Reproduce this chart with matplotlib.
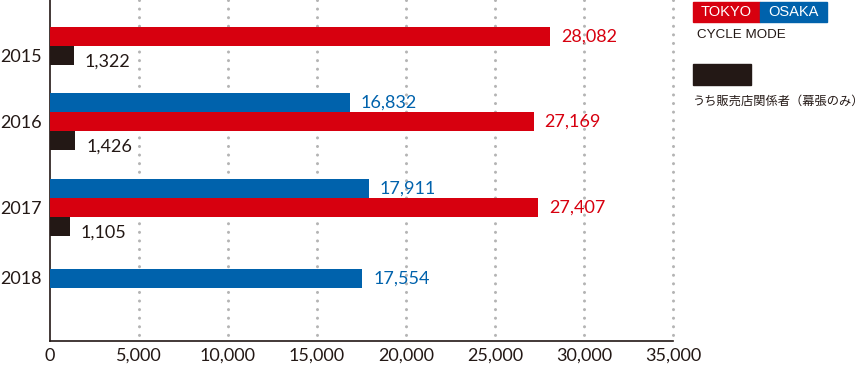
import matplotlib
matplotlib.use("Agg")
import matplotlib.pyplot as plt

years = ["2015", "2016", "2017", "2018"]
tokyo = [28082, 27169, 27407, None]
osaka = [None, 16832, 17911, 17554]
dealer = [1322, 1426, 1105, None]

RED = "#d7000f"
BLUE = "#0062ac"
BLACK = "#231815"
GRAY = "#b4b4b4"

plt.rcParams['font.family'] = ['Lato', 'DejaVu Sans']

fig = plt.figure(figsize=(8.67, 3.68), dpi=100)
ax = fig.add_axes([50 / 867, 27 / 368, 623 / 867, 341 / 368])

# layout: vertical slot centres (axis units ~ pixels, y inverted)
slot = 19
group_centre = [36.5, 121.5, 207.5, 297.5]   # centre of the TOKYO slot
year_label_y = [55, 122, 207, 278]

for i in range(len(years)):
    c = group_centre[i]
    if osaka[i] is not None:
        ax.barh(c - slot, osaka[i], height=slot, color=BLUE, zorder=3)
        ax.text(osaka[i] + 620, c - slot, f"{osaka[i]:,}", color=BLUE,
                fontsize=13, va="center", ha="left")
    if tokyo[i] is not None:
        ax.barh(c, tokyo[i], height=slot, color=RED, zorder=3)
        ax.text(tokyo[i] + 620, c, f"{tokyo[i]:,}", color=RED,
                fontsize=13, va="center", ha="left")
    if dealer[i] is not None:
        ax.barh(c + slot, dealer[i], height=slot, color=BLACK, zorder=3)
        ax.text(dealer[i] + 620, c + slot + 6, f"{dealer[i]:,}", color=BLACK,
                fontsize=13, va="center", ha="left")

ax.set_xlim(0, 35000)
ax.set_ylim(341, 0)

# dotted grid
for x in range(5000, 35001, 5000):
    ax.plot([x, x], [0, 341], color=GRAY, lw=2.2,
            linestyle=(0, (0.01, 2.8)), dash_capstyle="round", zorder=1,
            clip_on=False)

ax.set_xticks(range(0, 35001, 5000))
ax.set_xticklabels([f"{v:,}" for v in range(0, 35001, 5000)])
ax.set_yticks(year_label_y)
ax.set_yticklabels(years)
ax.tick_params(axis="both", length=0, labelsize=13, colors=BLACK)
ax.tick_params(axis="x", pad=5)
ax.tick_params(axis="y", pad=6)

for s in ["top", "right"]:
    ax.spines[s].set_visible(False)
for s in ["left", "bottom"]:
    ax.spines[s].set_color(BLACK)
    ax.spines[s].set_linewidth(1.2)

# legend drawn in figure pixels
def fx(px):
    return px / 867

def fy(py):
    return 1 - py / 368

fig.patches.append(plt.Rectangle((fx(693), fy(22)), fx(67), 20 / 368,
                                 transform=fig.transFigure, color=RED))
fig.patches.append(plt.Rectangle((fx(760), fy(22)), fx(67), 20 / 368,
                                 transform=fig.transFigure, color=BLUE))
fig.text(fx(726.5), fy(12.5), "TOKYO", color="white", fontsize=10.5,
         family="Liberation Sans", ha="center", va="center")
fig.text(fx(793.5), fy(12.5), "OSAKA", color="white", fontsize=10.5,
         family="Liberation Sans", ha="center", va="center")
fig.text(fx(697), fy(35), "CYCLE MODE", color=BLACK, fontsize=9.6,
         family="Liberation Sans", ha="left", va="center")
fig.patches.append(plt.Rectangle((fx(693), fy(85)), fx(58), 21 / 368,
                                 transform=fig.transFigure, color=BLACK))
fig.text(fx(693), fy(101), "うち販売店関係者（幕張のみ）", color=BLACK,
         fontsize=8.8, family=["Noto Sans CJK JP", "DejaVu Sans"],
         ha="left", va="center")

fig.savefig("out.png", dpi=100)
